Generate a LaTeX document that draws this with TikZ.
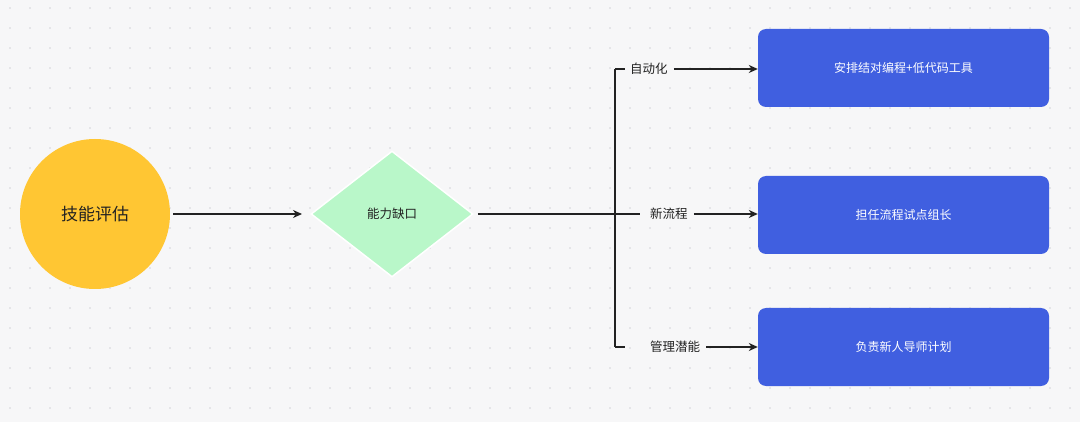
\documentclass[tikz,border=0pt]{standalone}
\usepackage{fontspec}
\setmainfont{Noto Sans CJK SC}
\usetikzlibrary{shapes.geometric,arrows.meta}
\definecolor{bgc}{HTML}{F7F7F8}
\definecolor{dotc}{HTML}{D4D4D8}
\definecolor{yel}{HTML}{FFC633}
\definecolor{grn}{HTML}{B9F7C9}
\definecolor{blu}{HTML}{405FE0}
\definecolor{ln}{HTML}{222222}
\tikzset{
  conn/.style={draw=ln,line width=1.4pt},
  arr/.style={conn,-{Stealth[length=9pt,width=8pt]}},
  task/.style={rectangle,rounded corners=8pt,fill=blu,text=white,minimum width=291pt,minimum height=78pt,font=\fontsize{12}{14}\selectfont},
  lab/.style={fill=bgc,inner sep=3pt,font=\fontsize{12.5}{14}\selectfont,text=ln}
}
\begin{document}
\begin{tikzpicture}[x=1pt,y=-1pt]
\fill[bgc] (0,0) rectangle (1080,422);
\useasboundingbox (0,0) rectangle (1080,422);
\foreach \i in {0,...,53}{\foreach \j in {0,...,21}{\fill[dotc] (10+\i*20,8+\j*20) circle (0.9);}}
\node[circle,fill=yel,minimum size=150pt,font=\fontsize{17}{20}\selectfont,text=ln] (c) at (95,214) {技能评估};
\node[diamond,fill=grn,draw=white,line width=1.5pt,minimum width=162pt,minimum height=126pt,aspect=1.3,inner sep=0pt,font=\fontsize{12.5}{14}\selectfont,text=ln] (d) at (392,214) {能力缺口};
\draw[arr] (c.east) ++(3,0) coordinate (cs) -- (302,214) coordinate (ce);
\coordinate (j) at (615,214);
\coordinate (jt) at (615,69);
\coordinate (jb) at (615,347);
\draw[conn] (d.east) ++(4,0) -- (j);
\draw[conn] (jt) -- (jb);
\node[task] (t1) at (903.5,68) {安排结对编程+低代码工具};
\node[task] (t2) at (903.5,215) {担任流程试点组长};
\node[task] (t3) at (903.5,347) {负责新人导师计划};
\draw[conn] (jt) -- (625,69);
\draw[conn] (j) -- (640,214);
\draw[conn] (jb) -- (625,347);
\node[lab,anchor=west] (l1) at (627,69) {自动化};
\node[lab,anchor=west] (l2) at (647,214) {新流程};
\node[lab,anchor=west] (l3) at (647,347) {管理潜能};
\draw[arr] (l1.east) ++(3,0) -- (t1.west|-l1);
\draw[arr] (l2.east) ++(3,0) -- (t2.west|-l2);
\draw[arr] (l3.east) ++(3,0) -- (t3.west|-l3);
\end{tikzpicture}
\end{document}
